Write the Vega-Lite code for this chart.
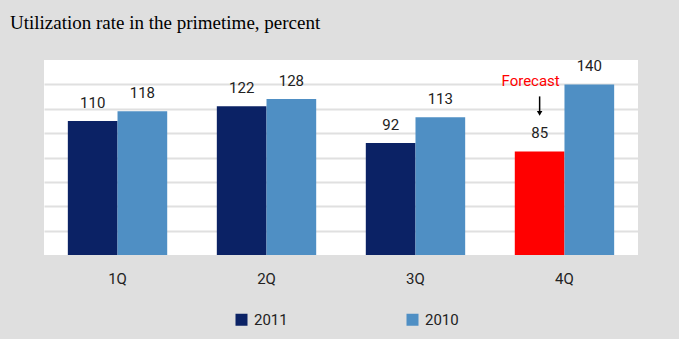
{
  "$schema": "https://vega.github.io/schema/vega-lite/v6.json",
  "autosize": "none",
  "width": 594,
  "height": 195,
  "padding": {"left": 44, "top": 60, "right": 41, "bottom": 84},
  "background": "#dfdfdf",
  "title": {
    "text": "Utilization rate in the primetime, percent",
    "anchor": "start",
    "frame": "group",
    "font": "Liberation Serif",
    "fontSize": 19,
    "fontWeight": "normal",
    "color": "#000000",
    "dx": -34,
    "offset": 11,
    "baseline": "alphabetic"
  },
  "config": {
    "view": {"fill": "white", "stroke": null},
    "font": "Roboto"
  },
  "data": {
    "values": [
      {"q": "1Q", "year": "2011", "type": "2011", "value": 110},
      {"q": "1Q", "year": "2010", "type": "2010", "value": 118},
      {"q": "2Q", "year": "2011", "type": "2011", "value": 122},
      {"q": "2Q", "year": "2010", "type": "2010", "value": 128},
      {"q": "3Q", "year": "2011", "type": "2011", "value": 92},
      {"q": "3Q", "year": "2010", "type": "2010", "value": 113},
      {"q": "4Q", "year": "2011", "type": "Forecast", "value": 85},
      {"q": "4Q", "year": "2010", "type": "2010", "value": 140}
    ]
  },
  "encoding": {
    "x": {
      "field": "q", "type": "nominal",
      "scale": {"paddingInner": 0.333, "paddingOuter": 0.16},
      "axis": {
        "title": null, "labelAngle": 0, "ticks": false, "domain": false,
        "labelFontSize": 15, "labelColor": "#222222", "labelPadding": 16,
        "labelFont": "Roboto"
      }
    },
    "xOffset": {"field": "year", "type": "nominal", "scale": {"domain": ["2011", "2010"], "paddingInner": 0}},
    "y": {
      "field": "value", "type": "quantitative",
      "scale": {"domain": [0, 160], "nice": false},
      "axis": {
        "title": null, "labels": false, "ticks": false, "domain": false,
        "values": [20, 40, 60, 80, 100, 120, 140],
        "gridColor": "#e0e0e0", "gridWidth": 2, "gridOpacity": 1
      }
    }
  },
  "layer": [
    {
      "mark": {"type": "bar"},
      "encoding": {
        "color": {
          "field": "type", "type": "nominal",
          "scale": {"domain": ["2011", "2010", "Forecast"], "range": ["#0b2265", "#4f8fc4", "#ff0000"]},
          "legend": {
            "values": ["2011", "2010"],
            "title": null,
            "orient": "none",
            "legendX": 190,
            "legendY": 252,
            "direction": "horizontal",
            "columnPadding": 117,
            "symbolType": "square",
            "symbolSize": 144,
            "symbolStrokeWidth": 0,
            "symbolOpacity": 1,
            "labelFontSize": 15,
            "labelColor": "#222222",
            "labelFont": "Roboto",
            "labelOffset": 5
          }
        }
      }
    },
    {
      "mark": {"type": "text", "baseline": "alphabetic", "dy": -13, "fontSize": 15, "color": "#222222"},
      "encoding": {"text": {"field": "value", "type": "quantitative"}}
    },
    {
      "transform": [{"filter": "datum.type === 'Forecast'"}],
      "mark": {"type": "text", "baseline": "alphabetic", "dy": -65, "dx": -9, "fontSize": 15, "color": "#ff0000"},
      "encoding": {"text": {"value": "Forecast"}}
    },
    {
      "transform": [{"filter": "datum.type === 'Forecast'"}],
      "mark": {"type": "rule", "color": "#000000", "strokeWidth": 1.5, "xOffset": -4, "yOffset": -55, "y2Offset": -40},
      "encoding": {"y2": {"field": "value"}}
    },
    {
      "transform": [{"filter": "datum.type === 'Forecast'"}],
      "mark": {"type": "point", "shape": "triangle-down", "filled": true, "color": "#000000", "size": 30, "opacity": 1, "xOffset": -4, "yOffset": -38}
    }
  ]
}
